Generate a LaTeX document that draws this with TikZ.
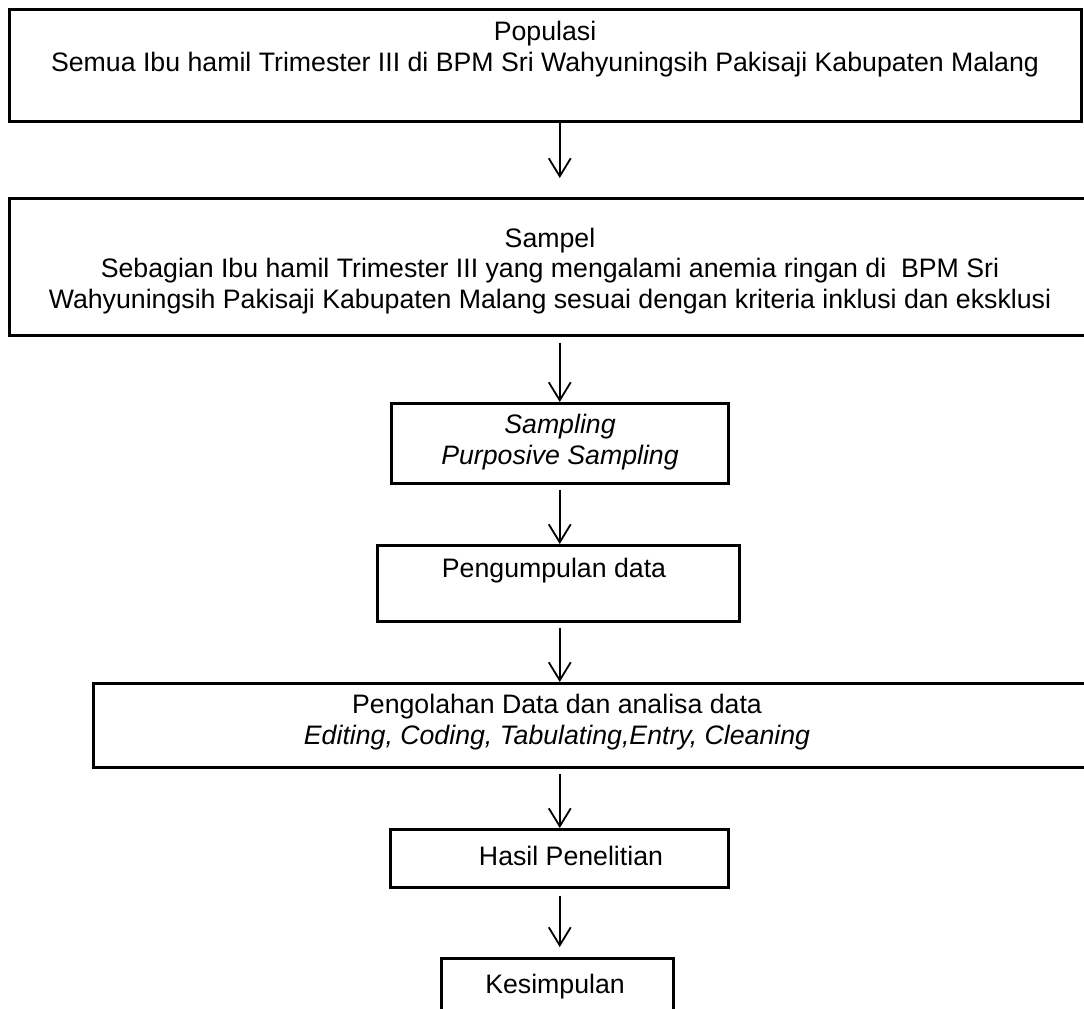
\documentclass[tikz,border=0pt]{standalone}
\usepackage{fontspec}
\setmainfont{Liberation Sans}
\usetikzlibrary{arrows.meta}
\begin{document}
\begin{tikzpicture}[x=1pt,y=-1pt,
  box/.style={draw, line width=2.5pt, rectangle, inner sep=0pt, anchor=north west},
  txt/.style={align=center, inner sep=0pt, font=\fontsize{26.7}{30.5}\selectfont},
  arr/.style={line width=1.8pt, -{Straight Barb[length=18pt,width=22pt,line width=1.8pt]}}
]
\useasboundingbox (0,0) rectangle (1084,1009);
\fill[white] (0,0) rectangle (1084,1009);
% boxes
\node[box, minimum width=1072pt, minimum height=112pt] (b1) at (8,8) {};
\node[box, minimum width=1090pt, minimum height=137pt] (b2) at (8,197) {};
\node[box, minimum width=337pt, minimum height=80pt] (b3) at (390,402) {};
\node[box, minimum width=362pt, minimum height=76pt] (b4) at (376,544) {};
\node[box, minimum width=1010pt, minimum height=84pt] (b5) at (92,682) {};
\node[box, minimum width=338pt, minimum height=58pt] (b6) at (389,828) {};
\node[box, minimum width=232pt, minimum height=80pt] (b7) at (440,957) {};
% texts
\node[txt] (t1) at (545,49) {Populasi\\Semua Ibu hamil Trimester III di BPM Sri Wahyuningsih Pakisaji Kabupaten Malang};
\node[txt] (t2) at (550,271) {Sampel\\Sebagian Ibu hamil Trimester III yang mengalami anemia ringan di\ \ BPM Sri\\Wahyuningsih Pakisaji Kabupaten Malang sesuai dengan kriteria inklusi dan eksklusi};
\node[txt, font=\fontsize{26.7}{30.5}\selectfont\itshape] (t3) at (560,442) {Sampling\\Purposive Sampling};
\node[txt] (t4) at (554,571) {Pengumpulan data};
\node[txt] (t5) at (557,722) {Pengolahan Data dan analisa data\\\textit{Editing, Coding, Tabulating,Entry, Cleaning}};
\node[txt] (t6) at (571,856) {Hasil Penelitian};
\node[txt] (t7) at (555,987) {Kesimpulan};
% arrows
\draw[arr, shorten >=19pt] (b1.south -| b3.north) -- (b2.north -| b3.north);
\draw[arr, shorten <=6pt] (b2.south -| b3.north) -- (b3.north);
\draw[arr, shorten <=5pt] (b3.south) -- (b4.north -| b3.north);
\draw[arr, shorten <=5pt] (b4.south -| b3.north) -- (b5.north -| b3.north);
\draw[arr, shorten <=5pt] (b5.south -| b3.north) -- (b6.north -| b3.north);
\draw[arr, shorten <=7pt, shorten >=10pt] (b6.south -| b3.north) -- (b7.north -| b3.north);
\end{tikzpicture}
\end{document}
